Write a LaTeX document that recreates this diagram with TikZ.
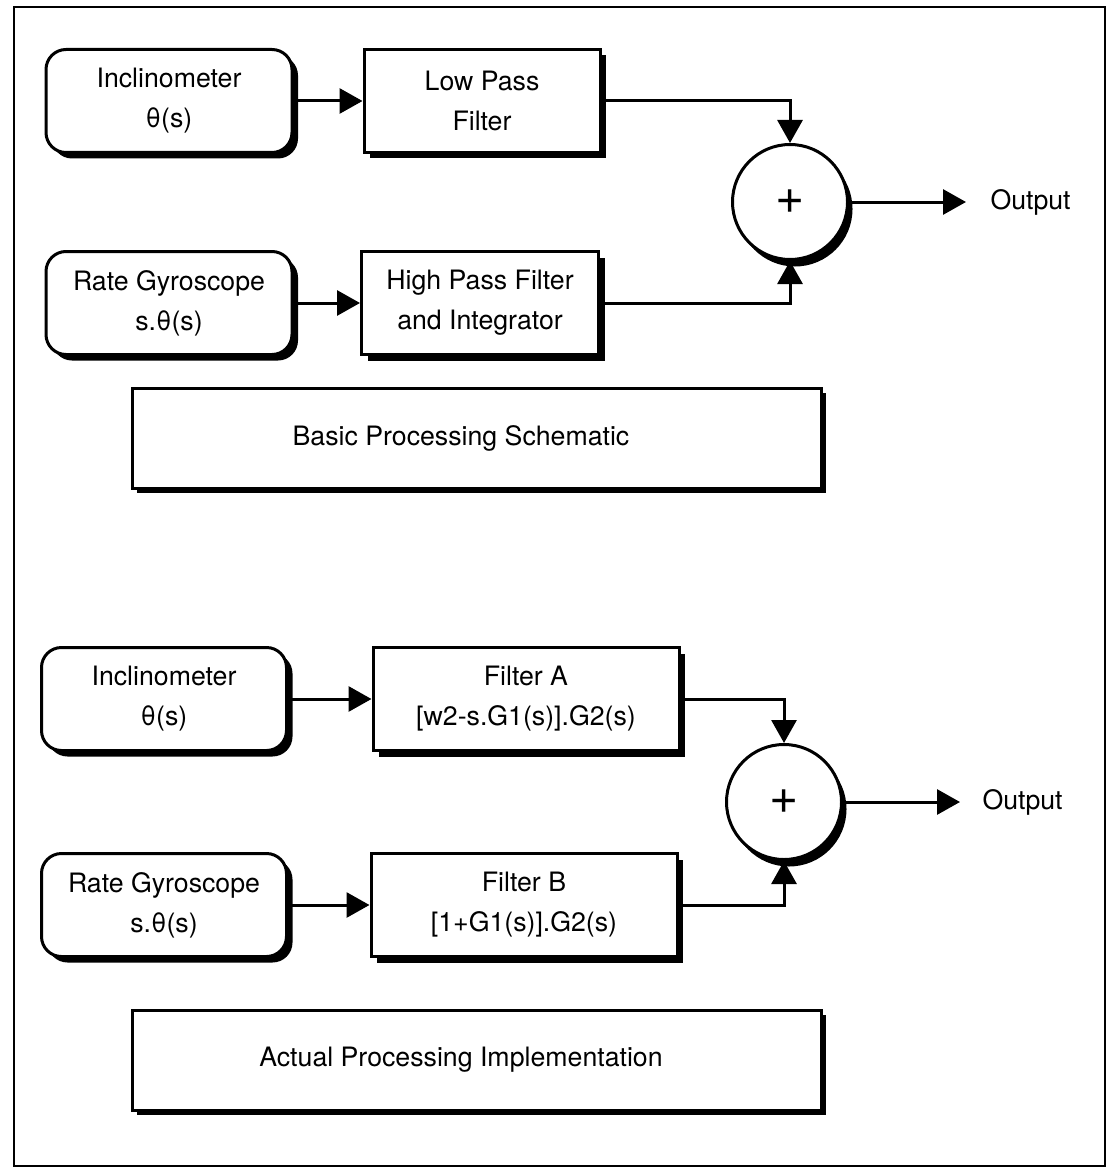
\documentclass[tikz,border=0pt]{standalone}
\usepackage{fontspec}
\setmainfont{TeX Gyre Heros}
\usetikzlibrary{arrows.meta,shadows}

\begin{document}
\begin{tikzpicture}[x=1pt, y=-1pt, line width=3pt,
  font=\fontsize{26.7}{40}\selectfont,
  sensor/.style={shape=rectangle, rounded corners=20pt, draw=black, fill=white, align=center,
    minimum width=246pt, minimum height=103pt,
    drop shadow={shadow xshift=6pt, shadow yshift=-6pt, opacity=1, fill=black}},
  filter/.style={shape=rectangle, draw=black, fill=white, align=center, minimum height=103pt,
    drop shadow={shadow xshift=6pt, shadow yshift=-6pt, opacity=1, fill=black}},
  sumnode/.style={shape=circle, draw=black, fill=white, minimum size=115pt, inner sep=0pt,
    font=\fontsize{50}{50}\selectfont,
    drop shadow={shadow xshift=5pt, shadow yshift=-7pt, opacity=1, fill=black}},
  caption/.style={shape=rectangle, draw=black, fill=white, minimum width=689pt, minimum height=100pt,
    drop shadow={shadow xshift=4pt, shadow yshift=-5pt, opacity=1, fill=black}},
  outlabel/.style={anchor=west, inner sep=0pt},
  flow/.style={-{Triangle[length=23pt, width=25pt]}, line width=3pt}]
\useasboundingbox (0,0) rectangle (1112,1169);
\draw[line width=2pt] (14,7) rectangle (1105,1166);

% basic processing schematic
\node[sensor] (inc1) at (169,101) {Inclinometer\\θ(s)};
\node[filter, minimum width=236pt] (lpf1) at (482,101) {Low Pass\\Filter};
\node[sensor] (gyr1) at (169,303) {Rate Gyroscope\\s.θ(s)};
\node[filter, minimum width=237pt] (hpf1) at (480,303) {High Pass Filter\\and Integrator};
\node[sumnode] (sum1) at (790,202) {+};
\node[outlabel] (out1) at (989,202) {Output};
\node[caption, label={[xshift=-16pt]center:Basic Processing Schematic}] (basic) at (477,438) {};

\path [flow] (inc1) edge (lpf1);
\path [flow] (gyr1) edge (hpf1);
\draw [flow] (lpf1.east) -| (sum1.north);
\draw [flow] (hpf1.east) -| (sum1.south);
\draw [flow, shorten >=23pt] (sum1.east) -- (out1.west);

% actual processing implementation
\node[sensor, minimum width=245pt] (inc2) at (164,699) {Inclinometer\\θ(s)};
\node[filter, minimum width=306pt] (filA) at (526,699) {Filter A\\{}[w2-s.G1(s)].G2(s)};
\node[sensor, minimum width=245pt] (gyr2) at (164,905) {Rate Gyroscope\\s.θ(s)};
\node[filter, minimum width=306pt] (filB) at (524,905) {Filter B\\{}[1+G1(s)].G2(s)};
\node[sumnode] (sum2) at (784,802) {+};
\node[outlabel] (out2) at (981,802) {Output};
\node[caption, label={[xshift=-16pt]center:Actual Processing Implementation}] (actual) at (477,1060) {};

\path [flow] (inc2) edge (filA);
\path [flow] (gyr2) edge (filB);
\draw [flow] (filA.east) -| (sum2.north);
\draw [flow] (filB.east) -| (sum2.south);
\draw [flow, shorten >=21pt] (sum2.east) -- (out2.west);
\end{tikzpicture}
\end{document}
